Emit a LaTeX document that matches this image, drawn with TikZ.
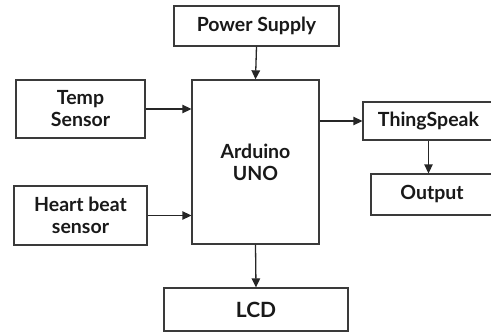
\documentclass[tikz,border=0pt]{standalone}
\usepackage{fontspec}
\setmainfont{Lato}
\usetikzlibrary{arrows.meta}
\definecolor{edge}{HTML}{3A3A3A}
\tikzset{
  blk/.style={draw=edge, line width=1.3pt, fill=white, align=center, inner sep=0pt,
    font=\fontsize{19.5}{22}\selectfont\bfseries, text=black!90},
  con/.style={draw=black!85, line width=1.3pt, -{Triangle[length=9pt,width=8.5pt]}}
}
\begin{document}
\begin{tikzpicture}[x=1pt,y=-1pt]
\useasboundingbox (0,0) rectangle (491,332);
\clip (0,0) rectangle (491,332);
\node[blk, minimum width=165pt, minimum height=40pt] (power) at (256.5,26) {Power Supply};
\node[blk, minimum width=127pt, minimum height=164pt] (ard) at (255.5,162) {Arduino\\UNO};
\node[blk, minimum width=129pt, minimum height=58pt] (temp) at (80.5,109) {Temp\\Sensor};
\node[blk, minimum width=133pt, minimum height=59pt] (heart) at (80.5,215.5) {Heart beat\\sensor};
\node[blk, minimum width=184pt, minimum height=43pt, font=\fontsize{21}{24}\selectfont\bfseries] (lcd) at (256,309.5) {LCD};
\node[blk, minimum width=131pt, minimum height=38pt] (thing) at (428.5,121) {ThingSpeak};
\node[blk, minimum width=122pt, minimum height=41pt] (out) at (432,194.5) {Output};
\draw[con] (power.south) -- (ard.north);
\draw[con] (temp.east) -- (temp.east -| ard.west);
\draw[con] (heart.east) -- (heart.east -| ard.west);
\draw[con] (ard.east |- thing.west) -- (thing.west);
\draw[con] (ard.south) -- (lcd.north);
\draw[con] (thing.south) -- (out.north -| thing.south);
\end{tikzpicture}
\end{document}
